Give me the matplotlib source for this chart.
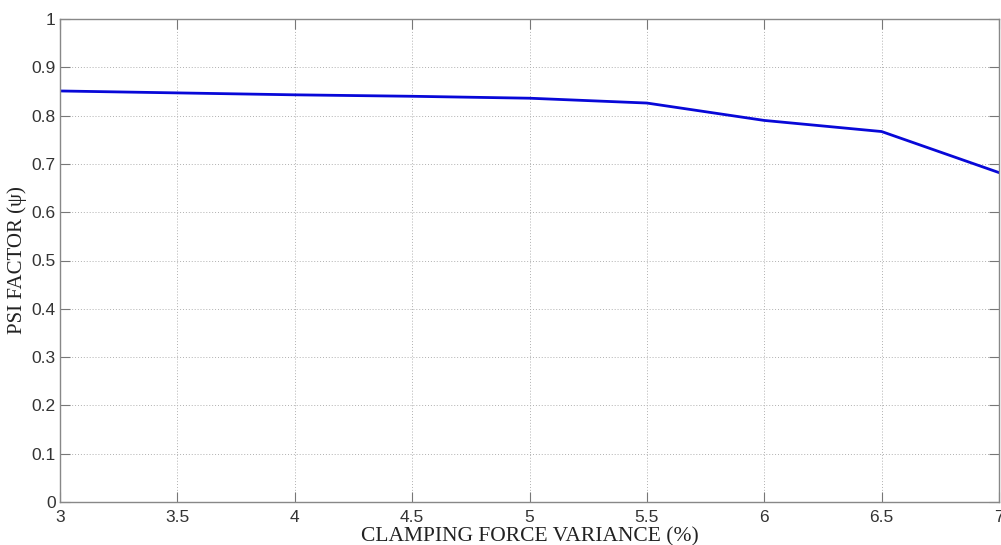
import matplotlib
matplotlib.use("Agg")
import matplotlib.pyplot as plt
import numpy as np

# clamping force variance (%) vs psi factor
variance = [3, 3.5, 4, 4.5, 5, 5.5, 6, 6.5, 7]
psi = [0.851, 0.847, 0.843, 0.840, 0.836, 0.826, 0.790, 0.767, 0.682]

xticks = [3, 3.5, 4, 4.5, 5, 5.5, 6, 6.5, 7]
xticklabels = ["3", "3.5", "4", "4.5", "5", "5.5", "6", "6.5", "7"]
yticks = [0, 0.1, 0.2, 0.3, 0.4, 0.5, 0.6, 0.7, 0.8, 0.9, 1]
yticklabels = ["0", "0.1", "0.2", "0.3", "0.4", "0.5", "0.6", "0.7", "0.8", "0.9", "1"]

fig = plt.figure(figsize=(10.01, 5.45), dpi=100)
ax = fig.add_axes([60 / 1001, 43 / 545, 939 / 1001, 483 / 545])

ax.plot(variance, psi, color="#0808d8", linewidth=2.0)

ax.set_xlim(3, 7)
ax.set_ylim(0, 1)
ax.set_xticks(xticks)
ax.set_xticklabels(xticklabels, family="Liberation Sans", fontsize=12.5, color="#333333")
ax.set_yticks(yticks)
ax.set_yticklabels(yticklabels, family="Liberation Sans", fontsize=12.5, color="#333333")
ax.tick_params(direction="in", length=7, width=0.8, color="#777777",
               top=True, right=True)
ax.tick_params(axis="x", pad=6)
ax.tick_params(axis="y", pad=3)

ax.grid(True, linestyle=(0, (1, 2)), color="#b0b0b0", linewidth=0.7)
for s in ax.spines.values():
    s.set_color("#888888")
    s.set_linewidth(1.0)

ax.set_xlabel("CLAMPING FORCE VARIANCE (%)", family="Liberation Serif",
              fontsize=15.5, color="#222222", labelpad=1.5)
ax.set_ylabel("PSI FACTOR (\u03c8)", family="Liberation Serif",
              fontsize=15, color="#222222", labelpad=3)

fig.savefig("out.png", dpi=100)
